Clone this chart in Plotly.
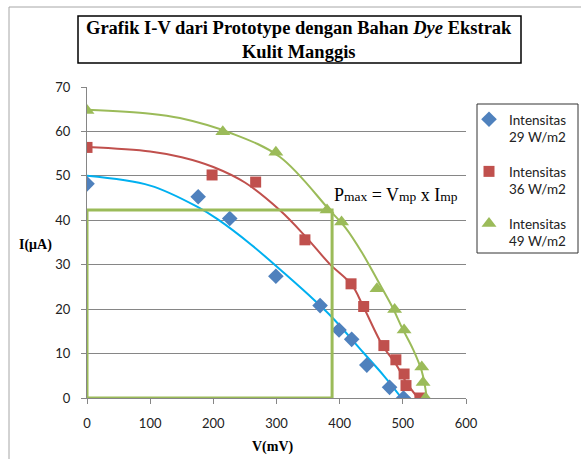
import plotly.graph_objects as go

# Measured I-V points (V in mV, I in microampere)
v_29 = [0, 176, 226, 299, 369, 399, 419, 443, 479, 501]
i_29 = [48.2, 45.3, 40.4, 27.4, 20.8, 15.3, 13.2, 7.4, 2.4, 0.0]

v_36 = [0, 198, 267, 345, 418, 438, 470, 489, 502, 505, 527]
i_36 = [56.4, 50.2, 48.6, 35.6, 25.7, 20.6, 11.8, 8.6, 5.4, 2.8, 0.0]

v_49 = [0, 215, 299, 380, 403, 459, 487, 502, 530, 532, 536]
i_49 = [64.7, 59.9, 55.3, 42.3, 39.6, 24.6, 19.9, 15.3, 7.0, 3.5, 0.0]

# Smoothed trend curves for each intensity
tv_29 = [0, 100, 175, 206, 260, 313, 360, 389, 437, 470, 498]
ti_29 = [50.0, 47.8, 43.0, 40.3, 34.5, 28.0, 22.0, 18.0, 10.3, 5.0, 0.0]

tv_36 = [0, 100, 150, 200, 250, 305, 345, 384, 419, 437, 468, 490, 506, 524]
ti_36 = [56.5, 55.5, 54.2, 52.0, 48.5, 42.3, 36.5, 30.2, 25.5, 20.7, 11.8, 7.4, 3.4, 0.0]

tv_49 = [0, 100, 147, 226, 305, 384, 410, 435, 460, 484, 498, 516, 530, 538]
ti_49 = [64.9, 64.0, 63.0, 59.7, 54.3, 42.3, 38.2, 32.8, 26.5, 20.3, 16.0, 11.0, 6.0, 0.0]

series_names = ["Intensitas<br>29 W/m2", "Intensitas<br>36 W/m2", "Intensitas<br>49 W/m2"]

# Maximum power point rectangle corner (Vmp, Imp)
v_mp = 388
i_mp = 42.3

x_ticks = [0, 100, 200, 300, 400, 500, 600]
y_ticks = [0, 10, 20, 30, 40, 50, 60, 70]

marker_colors = ["#4F81BD", "#C0504D", "#9BBB59"]
trend_colors = ["#00B0F0", "#C0504D", "#9BBB59"]
symbols = ["diamond", "square", "triangle-up"]
sizes = [12, 11, 13]

fig = go.Figure()

trends = [(tv_29, ti_29), (tv_36, ti_36), (tv_49, ti_49)]
for k, (vx, iy) in enumerate(trends):
    fig.add_trace(go.Scatter(x=vx, y=iy, mode="lines",
                             line=dict(color=trend_colors[k], width=2, shape="spline", smoothing=1),
                             showlegend=False, hoverinfo="skip"))

data = [(v_29, i_29), (v_36, i_36), (v_49, i_49)]
for k, (vx, iy) in enumerate(data):
    fig.add_trace(go.Scatter(x=vx, y=iy, mode="markers", name=series_names[k],
                             legendgroup=f"g{k}",
                             marker=dict(symbol=symbols[k], size=sizes[k],
                                         color=marker_colors[k], line=dict(width=0))))

# Pmax rectangle
fig.add_shape(type="rect", xref="x", yref="y", x0=0, y0=0, x1=v_mp, y1=i_mp,
              line=dict(color="#9BBB59", width=3), fillcolor="rgba(0,0,0,0)")

# Title box
fig.add_shape(type="rect", xref="paper", yref="paper",
              x0=(78 - 87) / 379, x1=(521 - 87) / 379,
              y0=(398 - 63) / 311, y1=(398 - 16) / 311,
              line=dict(color="#000000", width=1.5))

# Legend frame
fig.add_shape(type="rect", xref="paper", yref="paper",
              x0=(477 - 87) / 379, x1=(578 - 87) / 379,
              y0=(398 - 253) / 311, y1=(398 - 104) / 311,
              line=dict(color="#333333", width=1))

# Outer chart frame (top and left edges)
fig.add_shape(type="line", xref="paper", yref="paper",
              x0=(9 - 87) / 379, x1=(581 - 87) / 379,
              y0=(398 - 7) / 311, y1=(398 - 7) / 311,
              line=dict(color="#A6A6A6", width=1))
fig.add_shape(type="line", xref="paper", yref="paper",
              x0=(9 - 87) / 379, x1=(9 - 87) / 379,
              y0=(398 - 7) / 311, y1=(398 - 470) / 311,
              line=dict(color="#A6A6A6", width=1))

times = "Liberation Serif, Times New Roman, serif"

fig.add_annotation(xref="paper", yref="paper", x=(299 - 87) / 379, y=(398 - 40) / 311,
                   text="<b>Grafik I-V dari Prototype dengan Bahan <i>Dye</i> Ekstrak<br>Kulit Manggis</b>",
                   showarrow=False, font=dict(family=times, size=18.5, color="#000000"),
                   xanchor="center", yanchor="middle", align="center")

fig.add_annotation(xref="x", yref="y", x=v_mp, y=45.7,
                   text="P<span style='font-size:13.5px'>max</span> = V<span style='font-size:13.5px'>mp</span> x I<span style='font-size:13.5px'>mp</span>",
                   showarrow=False, font=dict(family=times, size=18, color="#000000"),
                   xanchor="left", yanchor="middle")

fig.add_annotation(xref="paper", yref="paper", x=(35 - 87) / 379, y=(398 - 245) / 311,
                   text="<b>I(μA)</b>", showarrow=False,
                   font=dict(family=times, size=14, color="#000000"),
                   xanchor="center", yanchor="middle")
fig.add_annotation(xref="paper", yref="paper", x=(273 - 87) / 379, y=(398 - 447) / 311,
                   text="<b>V(mV)</b>", showarrow=False,
                   font=dict(family=times, size=14, color="#000000"),
                   xanchor="center", yanchor="middle")

tick_font = dict(family="Lato, Open Sans, sans-serif", size=13, color="#222222")

fig.update_xaxes(range=[0, 600], tickvals=x_ticks, ticks="outside", ticklen=5,
                 tickcolor="#868686", showline=True, linecolor="#868686", linewidth=1,
                 showgrid=False, zeroline=False, tickfont=tick_font,
                 ticklabelstandoff=8)
fig.update_yaxes(range=[0, 70], tickvals=y_ticks, ticks="outside", ticklen=5,
                 tickcolor="#868686", showline=True, linecolor="#868686", linewidth=1,
                 showgrid=True, gridcolor="#868686", gridwidth=1, zeroline=False,
                 tickfont=tick_font, ticklabelstandoff=8)

fig.update_layout(
    width=581, height=459,
    margin=dict(l=87, r=115, t=87, b=61, autoexpand=False),
    paper_bgcolor="#FFFFFF", plot_bgcolor="#FFFFFF",
    showlegend=True,
    legend=dict(x=(469 - 87) / 379, y=(398 - 104) / 311, xanchor="left", yanchor="top",
                borderwidth=0, bgcolor="rgba(0,0,0,0)",
                font=dict(family="Lato, Open Sans, sans-serif", size=13.5, color="#222222"),
                traceorder="grouped", tracegroupgap=14, valign="top",
                itemwidth=30),
)

fig.write_html("out.html")
